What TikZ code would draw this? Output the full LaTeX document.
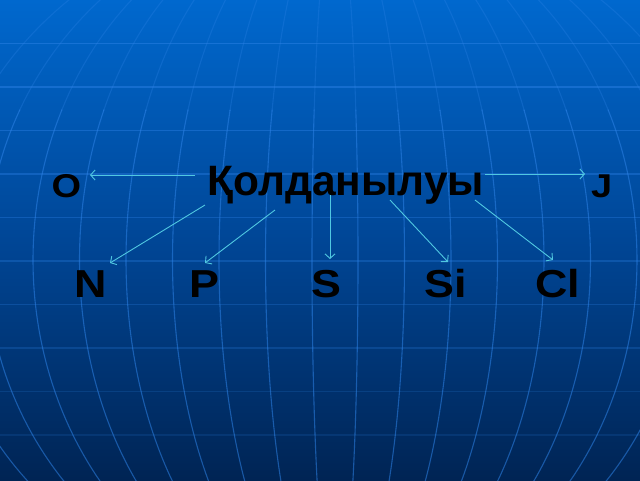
\documentclass[tikz,border=0pt]{standalone}
\usepackage{fontspec}
\setmainfont{Liberation Sans}
\newfontfamily\widesans[FakeStretch=1.15]{Liberation Sans}
\usetikzlibrary{arrows.meta}
\definecolor{bgtop}{RGB}{0,104,206}
\definecolor{bgmid}{RGB}{0,70,150}
\definecolor{bgbot}{RGB}{0,36,84}
\definecolor{gridc}{RGB}{45,130,230}
\definecolor{arrc}{RGB}{80,200,225}
\tikzset{
 lbl/.style={anchor=base west, inner sep=0pt, font=\widesans\bfseries\fontsize{39}{44}\selectfont, text=black},
 smalllbl/.style={lbl, font=\widesans\bfseries\fontsize{33}{40}\selectfont},
 titlelbl/.style={lbl, font=\bfseries\fontsize{42.5}{50}\selectfont},
 conn/.style={draw=arrc, line width=0.9pt, -{Straight Barb[length=4.5pt,width=10pt]}},
 gridline/.style={draw=gridc, line width=1.1pt}
}
\begin{document}
\begin{tikzpicture}[x=1pt,y=-1pt]
\useasboundingbox (0,0) rectangle (640,480);
\shade[top color=bgtop, bottom color=bgbot, middle color=bgmid] (0,0) rectangle (640,480);
\begin{scope}
\clip (0,0) rectangle (640,480);
\foreach \k [evaluate=\k as \op using {0.55-0.04*\k}] in {1,...,10}
  \draw[gridline, opacity=\op] (0,43.5*\k) -- (640,43.5*\k);
\foreach \k in {0,...,8}{
  \pgfmathsetmacro\a{23+46.5*\k}
  \draw[gridline, opacity=0.3] plot[domain=-50:-25, samples=15, smooth] ({335+\a*cos(\x)},{260+352*sin(\x)});
  \draw[gridline, opacity=0.3] plot[domain=-50:-25, samples=15, smooth] ({335-\a*cos(\x)},{260+352*sin(\x)});
  \draw[gridline, opacity=0.55] plot[domain=-25.3:40, samples=30, smooth] ({335+\a*cos(\x)},{260+352*sin(\x)});
  \draw[gridline, opacity=0.55] plot[domain=-25.3:40, samples=30, smooth] ({335-\a*cos(\x)},{260+352*sin(\x)});
}
\end{scope}
\node[titlelbl] (w) at (207,195) {Қолданылуы};
\node[smalllbl] (o) at (51.5,197) {O};
\node[smalllbl] (j) at (591,197) {J};
\node[lbl] (n) at (74.7,297) {N};
\node[lbl] (p) at (189.6,297) {P};
\node[lbl] (s) at (311,297) {S};
\node[lbl] (si) at (424,297) {Si};
\node[lbl] (cl) at (535,297) {Cl};
\coordinate (tO) at ([shift={(-12,-20)}]w.base west);
\coordinate (tJ) at ([shift={(278,-21)}]w.base west);
\coordinate (tN) at ([shift={(-2,10)}]w.base west);
\coordinate (tP) at ([shift={(68,15)}]w.base west);
\coordinate (tS) at ([shift={(123,0)}]w.base west);
\coordinate (tSi) at ([shift={(183,5)}]w.base west);
\coordinate (tCl) at ([shift={(268,5)}]w.base west);
\draw[conn] (tO) -- ([shift={(38.5,-22)}]o.base west);
\draw[conn] (tJ) -- ([shift={(-6,-23)}]j.base west);
\draw[conn] (tN) -- ([shift={(35.3,-34)}]n.base west);
\draw[conn] (tP) -- ([shift={(15.4,-34)}]p.base west);
\draw[conn] (tS) -- ([shift={(19,-38)}]s.base west);
\draw[conn] (tSi) -- ([shift={(24,-35)}]si.base west);
\draw[conn] (tCl) -- ([shift={(18,-37)}]cl.base west);
\end{tikzpicture}
\end{document}
